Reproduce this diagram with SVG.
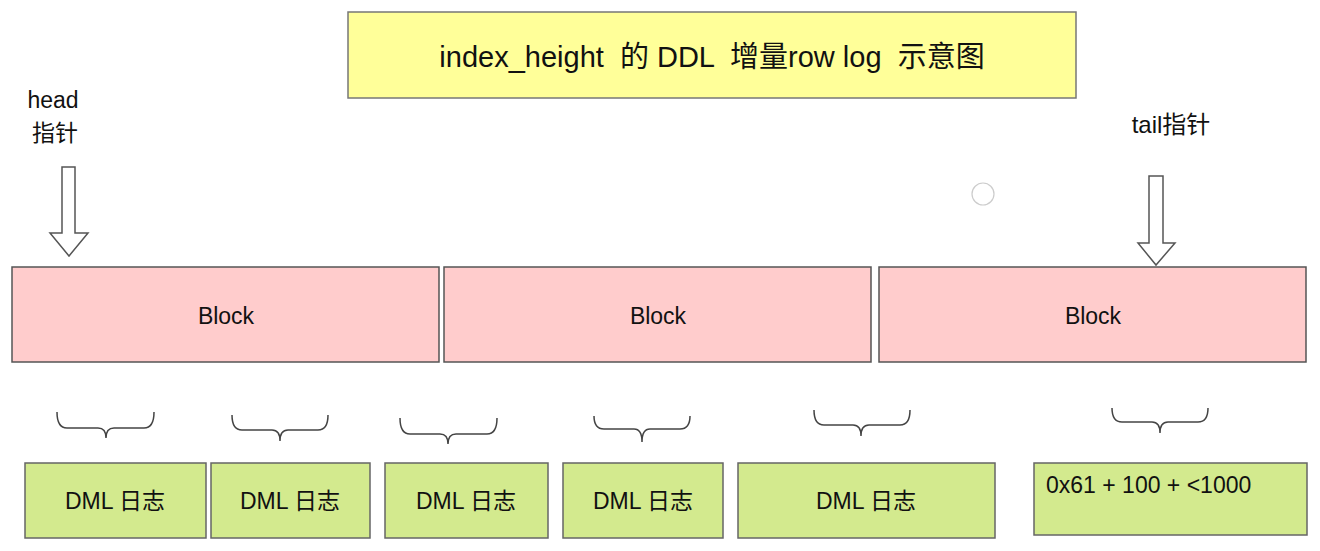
<svg xmlns="http://www.w3.org/2000/svg" width="1320" height="551" viewBox="0 0 1320 551">
<style>
text{font-family:"Liberation Sans","Noto Sans CJK SC",sans-serif;fill:#111;}
.blk{fill:#ffcccc;stroke:#555;stroke-width:1.5;}
.dml{fill:#d3ea8e;stroke:#666;stroke-width:1.5;}
.ttl{fill:#ffff99;stroke:#777;stroke-width:1.5;}
.arr{fill:#fff;stroke:#555;stroke-width:1.5;}
.br{fill:none;stroke:#444;stroke-width:1.5;}
.lbl{font-size:23px;text-anchor:middle;}
</style>
<rect width="1320" height="551" fill="#fff"/>
<g id="title">
<rect class="ttl" x="348" y="12" width="728" height="86"/>
<text x="712" y="67" style="font-size:29px;text-anchor:middle" xml:space="preserve">index_height  的 DDL  增量row log  示意图</text>
</g>
<g id="head-label">
<text class="lbl" x="53" y="108">head<tspan x="55" y="141">指针</tspan></text>
</g>
<g id="tail-label">
<text x="1171" y="133" style="font-size:24px;text-anchor:middle">tail指针</text>
</g>
<g id="block1"><rect class="blk" x="12" y="267" width="427" height="95"/><text class="lbl" x="226" y="324">Block</text></g>
<g id="block2"><rect class="blk" x="444" y="267" width="427" height="95"/><text class="lbl" x="658" y="324">Block</text></g>
<g id="block3"><rect class="blk" x="879" y="267" width="427" height="95"/><text class="lbl" x="1093" y="324">Block</text></g>
<g id="dml1"><rect class="dml" x="25" y="463" width="181" height="75"/><text class="lbl" x="115" y="509">DML 日志</text></g>
<g id="dml2"><rect class="dml" x="211" y="463" width="159" height="75"/><text class="lbl" x="290" y="509">DML 日志</text></g>
<g id="dml3"><rect class="dml" x="385" y="463" width="163" height="75"/><text class="lbl" x="466" y="509">DML 日志</text></g>
<g id="dml4"><rect class="dml" x="563" y="463" width="160" height="75"/><text class="lbl" x="643" y="509">DML 日志</text></g>
<g id="dml5"><rect class="dml" x="738" y="463" width="257" height="75"/><text class="lbl" x="866" y="509">DML 日志</text></g>
<g id="dml6"><rect class="dml" x="1034" y="463" width="273" height="72"/><text x="1046" y="493" style="font-size:23px">0x61 + 100 + &lt;1000</text></g>
<g id="marker-dot"><circle cx="983" cy="194" r="11" fill="#fff" stroke="#ccc" stroke-width="1.2"/></g>
<g id="connectors">
<polygon class="arr" points="62,167 75,167 75,233 88,233 69,256 50,233 62,233"/>
<polygon class="arr" points="1149,176 1163,176 1163,243 1175,243 1156,265 1138,243 1149,243"/>
<path class="br" d="M57,412 Q57,428 67,428 L98,428 Q106,428 106,438 Q106,428 114,428 L144,428 Q154,428 154,412"/>
<path class="br" d="M232,415 Q232,430 242,430 L272,430 Q280,430 280,441 Q280,430 288,430 L318,430 Q328,430 328,415"/>
<path class="br" d="M400,418 Q400,434 410,434 L440,434 Q448,434 448,444 Q448,434 456,434 L487,434 Q497,434 497,418"/>
<path class="br" d="M594,416 Q594,429 604,429 L634,429 Q642,429 642,442 Q642,429 650,429 L680,429 Q690,429 690,416"/>
<path class="br" d="M814,410 Q814,425 824,425 L853,425 Q861,425 861,436 Q861,425 869,425 L900,425 Q910,425 910,410"/>
<path class="br" d="M1112,408 Q1112,422 1122,422 L1152,422 Q1160,422 1160,433 Q1160,422 1168,422 L1198,422 Q1208,422 1208,408"/>
</g>
</svg>
